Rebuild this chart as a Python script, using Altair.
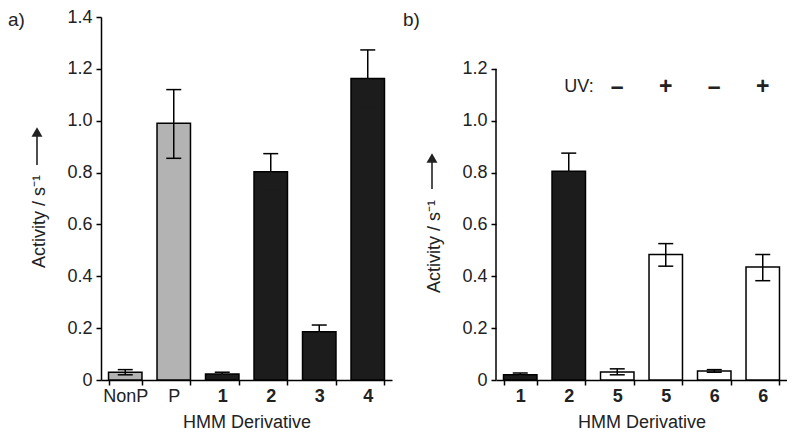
import altair as alt
import pandas as pd

FONT = "Liberation Sans"

# ---------------- data ----------------
a_cats = ["NonP", "P", "1", "2", "3", "4"]
a_vals = [0.030, 0.990, 0.023, 0.803, 0.186, 1.163]
a_lo = [0.020, 0.855, 0.016, 0.733, 0.160, 1.053]
a_hi = [0.040, 1.120, 0.030, 0.873, 0.212, 1.273]
a_group = ["gray", "gray", "black", "black", "black", "black"]

b_keys = ["1", "2", "5-", "5+", "6-", "6+"]
b_vals = [0.020, 0.805, 0.031, 0.484, 0.035, 0.436]
b_lo = [0.014, 0.735, 0.020, 0.439, 0.030, 0.383]
b_hi = [0.027, 0.875, 0.043, 0.526, 0.040, 0.484]
b_group = ["black", "black", "white", "white", "white", "white"]

uv_keys = ["5-", "5+", "6-", "6+"]
uv_signs = ["–", "+", "–", "+"]
uv_label = ["UV:"]
uv_level = [1.13]

panel_tags = ["a)", "b)"]
y_title = "Activity / s⁻¹"
x_title = "HMM Derivative"
a_yticks = [0, 0.2, 0.4, 0.6, 0.8, 1.0, 1.2, 1.4]
b_yticks = [0, 0.2, 0.4, 0.6, 0.8, 1.0, 1.2]
y_max = 1.4

df_a = pd.DataFrame({"cat": a_cats, "v": a_vals, "lo": a_lo, "hi": a_hi, "grp": a_group})
df_b = pd.DataFrame({"cat": b_keys, "v": b_vals, "lo": b_lo, "hi": b_hi, "grp": b_group})
df_uv = pd.DataFrame({"cat": uv_keys, "sign": uv_signs, "y": [uv_level[0]] * len(uv_keys)})
df_uvlab = pd.DataFrame({"t": uv_label, "y": uv_level})

W, H = 291, 363
BLACK = "#1c1c1c"

color = alt.Color(
    "grp:N",
    scale=alt.Scale(domain=["gray", "black", "white"], range=["#b3b3b3", BLACK, "#ffffff"]),
    legend=None,
)
yscale = alt.Scale(domain=[0, y_max], nice=False, zero=True)
ylabel_expr = "datum.value == 0 ? '0' : format(datum.value, '.1f')"


def yaxis(values, titleY, domain=True):
    return alt.Axis(
        values=values,
        labelExpr=ylabel_expr,
        title=y_title,
        domain=domain,
        titlePadding=18,
        titleY=titleY,
    )


def arrow(xpos, tip, tail):
    one = pd.DataFrame({"k": [0]})
    line = alt.Chart(one).mark_rule(color="#222", strokeWidth=1.6).encode(
        x=alt.value(xpos), y=alt.value(tip + 8), y2=alt.value(tail)
    )
    head = alt.Chart(one).mark_point(
        shape="triangle-up", filled=True, color="#222", opacity=1, size=120
    ).encode(x=alt.value(xpos), y=alt.value(tip + 5))
    return [line, head]


def build_panel(df, cats, xaxis, yax, tag):
    xs = alt.Scale(domain=cats, paddingInner=0.31, paddingOuter=0.155)
    base = alt.Chart(df)
    x = alt.X("cat:N", scale=xs, sort=cats, axis=xaxis, title=x_title)
    hidden = alt.condition("datum.grp == 'black'", alt.value(BLACK), alt.value("black"))
    err_lo = base.mark_rule(strokeWidth=1.5).encode(
        x=x, y=alt.Y("lo:Q", scale=yscale, title=y_title), y2="v:Q", color=hidden
    )
    err_hi = base.mark_rule(color="black", strokeWidth=1.5).encode(
        x=x, y=alt.Y("v:Q", scale=yscale, title=y_title), y2="hi:Q"
    )
    cap_lo = base.mark_tick(thickness=1.5, size=15, opacity=1).encode(
        x=x, y=alt.Y("lo:Q", scale=yscale, title=y_title), color=hidden
    )
    cap_hi = base.mark_tick(color="black", thickness=1.5, size=15, opacity=1).encode(
        x=x, y=alt.Y("hi:Q", scale=yscale, title=y_title)
    )
    bars = base.mark_bar(stroke="black", strokeWidth=1.5).encode(
        x=x, y=alt.Y("v:Q", scale=yscale, axis=yax, title=y_title), color=color
    )
    tag_txt = alt.Chart(pd.DataFrame({"t": [tag]})).mark_text(
        font=FONT, fontSize=19, align="left", baseline="middle", color="#222"
    ).encode(text="t:N", x=alt.value(-93), y=alt.value(3))
    return [bars, err_lo, err_hi, cap_lo, cap_hi, tag_txt], x


axis_common = dict(tickBand="extent", labelAngle=0, labelPadding=2, titlePadding=8)

xaxis_a = alt.Axis(
    labelFontWeight={
        "condition": {"test": "datum.label == 'NonP' || datum.label == 'P'", "value": "normal"},
        "value": "bold",
    },
    **axis_common,
)
xaxis_b = alt.Axis(
    labelFontWeight="bold",
    labelExpr="replace(replace(datum.label, '-', ''), '+', '')",
    **axis_common,
)

layers_a, xa = build_panel(df_a, a_cats, xaxis_a, yaxis(a_yticks, 204), panel_tags[0])
panel_a = alt.layer(*layers_a, *arrow(-64, 110, 148)).properties(width=W, height=H)

layers_b, xb = build_panel(
    df_b, b_keys, xaxis_b, yaxis(b_yticks, 229, domain=False), panel_tags[1]
)

ydom = alt.Chart(pd.DataFrame({"y0": [0.0], "y1": [b_yticks[-1]]})).mark_rule(
    color="black", strokeWidth=1.5
).encode(x=alt.value(0), y=alt.Y("y0:Q", scale=yscale, title=y_title), y2="y1:Q")

uv_signs_txt = alt.Chart(df_uv).mark_text(
    font=FONT, fontSize=23, fontWeight="bold", color="#222", baseline="middle"
).encode(x=xb, y=alt.Y("y:Q", scale=yscale, title=y_title), text="sign:N")

uv_lab_txt = alt.Chart(df_uvlab).mark_text(
    font=FONT, fontSize=18, color="#222", baseline="middle", align="center"
).encode(x=alt.value(83), y=alt.Y("y:Q", scale=yscale, title=y_title), text="t:N")

panel_b = alt.layer(*layers_b, ydom, uv_signs_txt, uv_lab_txt, *arrow(-64, 136, 172)).properties(
    width=W, height=H
)

chart = (
    alt.hconcat(panel_a, panel_b, spacing=11)
    .properties(padding={"left": 0, "top": 0, "right": 0, "bottom": 0})
    .configure_view(stroke=None)
    .configure_axis(
        grid=False,
        domainColor="black",
        domainWidth=1.5,
        tickColor="black",
        tickWidth=1.5,
        tickSize=5,
        labelFont=FONT,
        labelFontSize=18,
        labelColor="#222",
        titleFont=FONT,
        titleFontSize=18,
        titleFontWeight="normal",
        titleColor="#222",
    )
    .configure_axisY(labelPadding=4)
)

chart.save("out.html", embed_options={"renderer": "svg", "actions": False})
